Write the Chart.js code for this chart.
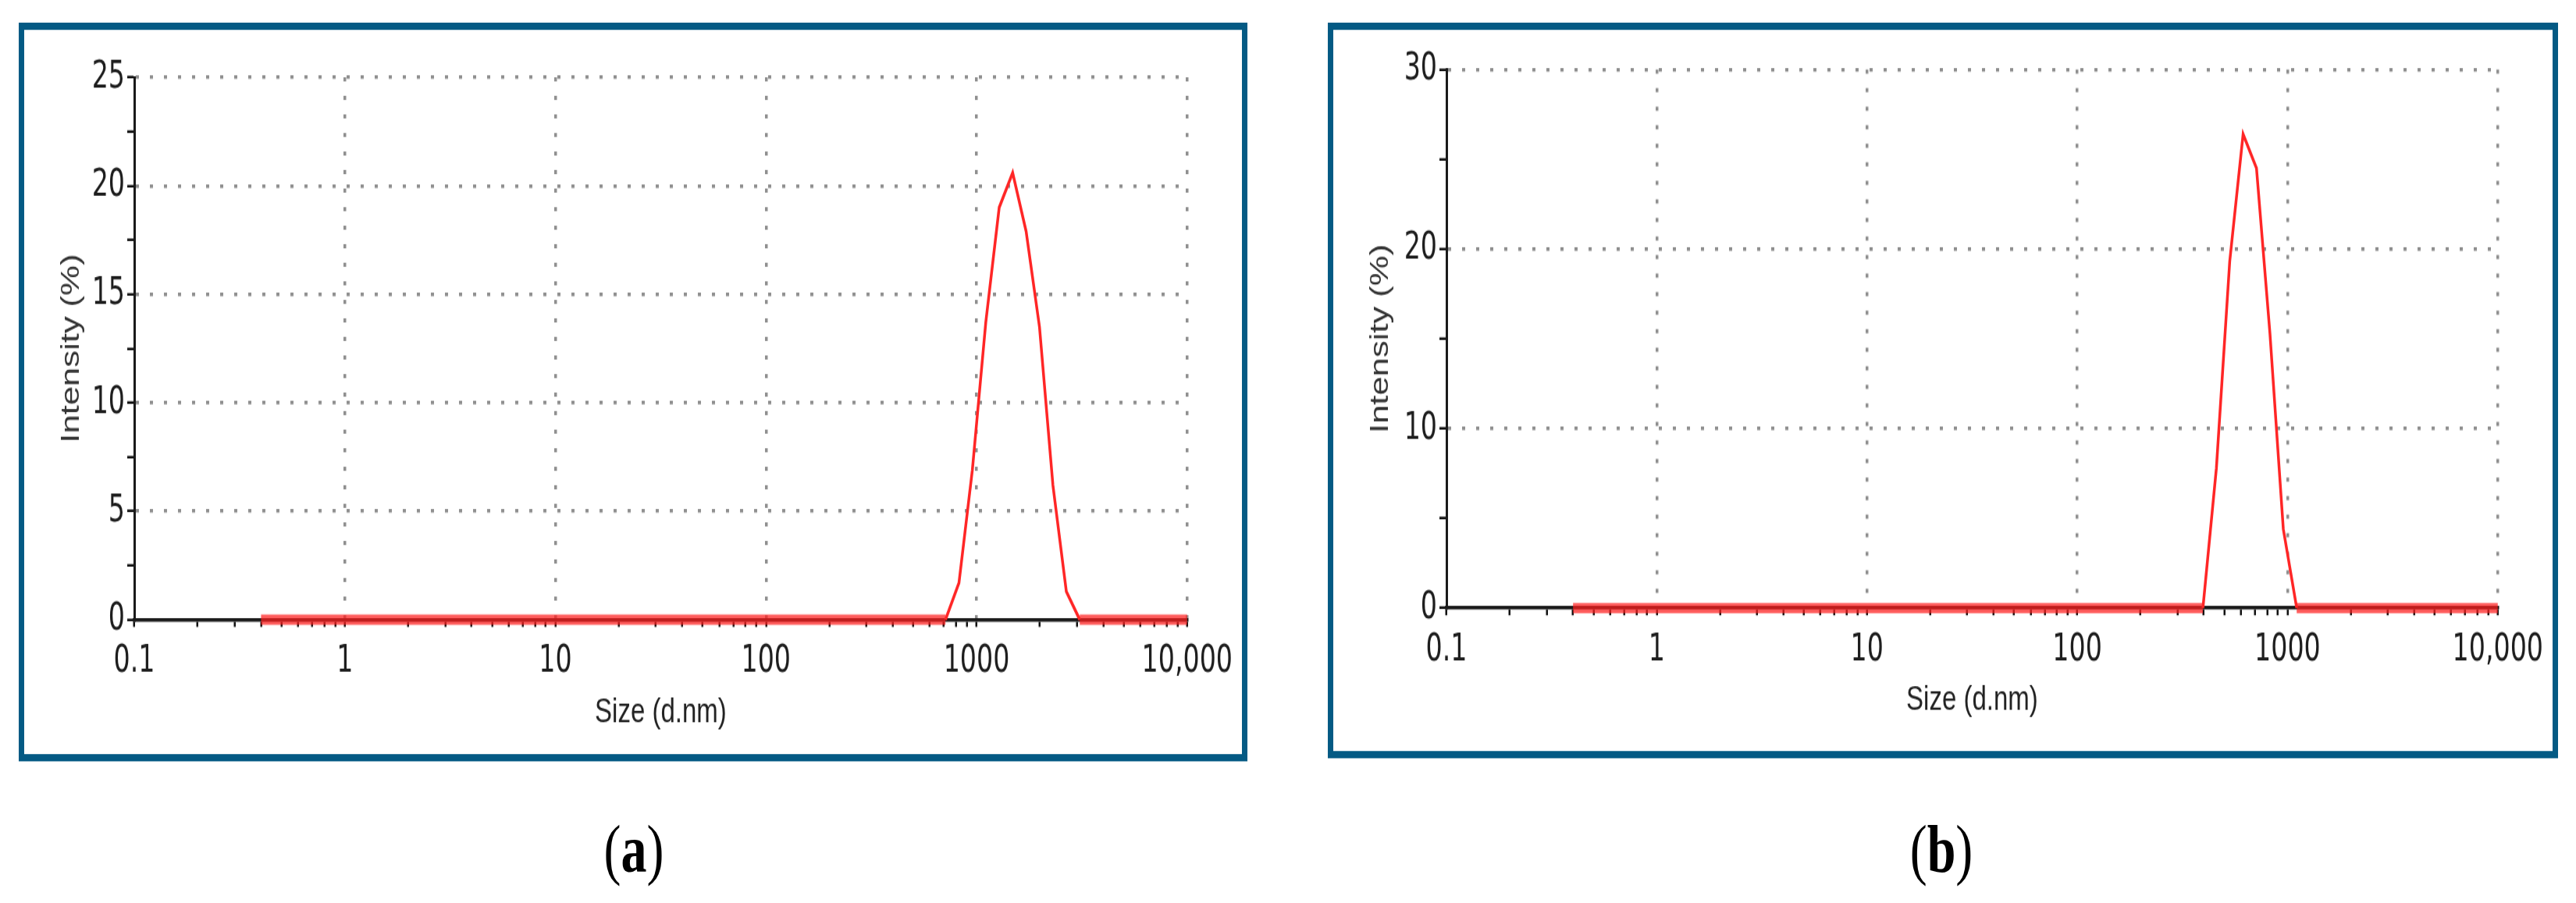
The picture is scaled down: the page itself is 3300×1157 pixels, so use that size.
<!DOCTYPE html>
<html lang="en">

<head>
    <meta charset="UTF-8">
    <title>Size distribution by intensity</title>

    <script src="https://cdn.jsdelivr.net/npm/chart.js"></script>

    <style>
        body {
            margin: 0;
            background: #fff;
            width: 3300px;
            height: 1157px;
            overflow: hidden;
        }

        /* the published figure is stretched vertically, so the whole sheet is too */
        #figure {
            position: absolute;
            left: 0;
            top: 0;
            width: 3300px;
            height: 877px;
            transform: scaleY(1.32);
            transform-origin: 0 0;
        }

        .frame {
            position: absolute;
            box-sizing: border-box;
            border: 7px solid #045a84;
            background: #fff;
        }

        #frameA { left: 24px; top: 22px; width: 1574px; height: 717px; }
        #frameB { left: 1701px; top: 22px; width: 1576px; height: 714px; }

        .frame canvas { position: absolute; left: 0; top: 0; }

        .panel {
            position: absolute;
            top: 784px;
            width: 200px;
            text-align: center;
            font-family: 'Liberation Serif', 'DejaVu Serif', serif;
            font-size: 66px;
            line-height: 80px;
            color: #000;
        }

        #panelA { left: 712px; }
        #panelB { left: 2387px; }
    </style>
</head>

<body>
    <div id="figure">
        <div class="frame" id="frameA"><canvas id="chartA" width="1560" height="703"></canvas></div>
        <div class="frame" id="frameB"><canvas id="chartB" width="1562" height="700"></canvas></div>
        <div class="panel" id="panelA">(<b>a</b>)</div>
        <div class="panel" id="panelB">(<b>b</b>)</div>
    </div>

    <script>
        // values: size (d.nm) and intensity (%)
        const sizesA = [0.4, 712, 825, 955, 1106, 1281, 1484, 1719, 1990, 2305, 2669, 3091, 10000];
        const intensityA = [0, 0, 1.7, 6.9, 13.7, 19.0, 20.6, 17.9, 13.5, 6.2, 1.3, 0, 0];

        const sizesB = [0.4, 396, 459, 531, 615, 712, 825, 955, 1106, 10000];
        const intensityB = [0, 0, 7.8, 19.3, 26.4, 24.5, 15.3, 4.4, 0, 0];

        // axes
        const xMajor = [0.1, 1, 10, 100, 1000, 10000];
        const xTickLabels = ['0.1', '1', '10', '100', '1000', '10,000'];
        const minorSteps = [1, 2, 3, 4, 5, 6, 7, 8, 9];
        const yMaxA = 25, yLabelStepA = 5, yMinorA = 2.5;
        const yMaxB = 30, yLabelStepB = 10, yMinorB = 5;

        const xTitle = 'Size (d.nm)';
        const yTitle = 'Intensity (%)';

        const tickFont = { family: "'Liberation Sans Narrow', 'DejaVu Sans Condensed', 'Liberation Sans', sans-serif", size: 37 };
        const titleFont = { family: "'Liberation Sans', Arial, sans-serif", size: 33 };
        const gridColor = '#8f8f8f';
        const none = 'rgba(0,0,0,0)';

        function makeChart(id, sizes, values, yMax, yLabelStep, yMinor, box) {
            const points = sizes.map((s, i) => ({ x: s, y: values[i] }));
            const flat = c => c.p0.parsed.y === 0 && c.p1.parsed.y === 0;

            return new Chart(document.getElementById(id), {
                type: 'line',
                data: {
                    datasets: [{
                        data: points,
                        borderColor: '#ff2626',
                        borderWidth: 3.5,
                        pointRadius: 0,
                        tension: 0,
                        fill: false,
                        clip: false,
                        segment: {
                            // the base line is drawn thick and see-through over the axis
                            borderWidth: c => flat(c) ? 10 : 3.5,
                            borderColor: c => flat(c) ? 'rgba(255, 30, 30, 0.72)' : '#ff2626'
                        }
                    }]
                },
                options: {
                    responsive: false,
                    devicePixelRatio: 1,
                    animation: false,
                    layout: { padding: { left: 0, top: box.top, right: box.right, bottom: box.bottom } },
                    plugins: { legend: { display: false }, tooltip: { enabled: false } },
                    scales: {
                        x: {
                            type: 'logarithmic',
                            min: xMajor[0],
                            max: xMajor[xMajor.length - 1],
                            afterBuildTicks: scale => {
                                const ticks = [];
                                xMajor.forEach((m, i) => {
                                    if (i === xMajor.length - 1) { ticks.push({ value: m }); return; }
                                    minorSteps.forEach(k => ticks.push({ value: +(m * k).toPrecision(3) }));
                                });
                                scale.ticks = ticks;
                            },
                            afterFit: scale => { scale.height = box.xAxis; },
                            ticks: {
                                autoSkip: false,
                                maxRotation: 0,
                                minRotation: 0,
                                padding: 12,
                                color: '#1e1e1e',
                                font: tickFont,
                                callback: v => {
                                    const i = xMajor.indexOf(v);
                                    return i >= 0 ? xTickLabels[i] : '';
                                }
                            },
                            grid: {
                                lineWidth: 3.5,
                                tickLength: 7,
                                tickWidth: 2.5,
                                tickColor: '#111',
                                color: c => (c.tick && c.tick.value !== xMajor[0] && xMajor.includes(c.tick.value)) ? gridColor : none
                            },
                            border: { display: true, color: '#1a1a1a', width: 3.5, dash: [4, 14] },
                            title: {
                                display: true,
                                text: xTitle,
                                color: '#222',
                                font: titleFont,
                                padding: { top: 0, bottom: box.xTitlePad }
                            }
                        },
                        y: {
                            min: 0,
                            max: yMax,
                            afterFit: scale => { scale.width = box.left; },
                            ticks: {
                                stepSize: yMinor,
                                autoSkip: false,
                                padding: 3,
                                color: '#1e1e1e',
                                font: tickFont,
                                callback: v => v % yLabelStep === 0 ? String(v) : ''
                            },
                            grid: {
                                lineWidth: 3.5,
                                tickLength: 9,
                                tickWidth: 2.5,
                                tickColor: '#111',
                                color: c => (c.tick && c.tick.value > 0 && c.tick.value % yLabelStep === 0) ? gridColor : none
                            },
                            border: { display: true, color: '#1a1a1a', width: 3, dash: [4, 14] },
                            title: {
                                display: true,
                                text: yTitle,
                                color: '#333',
                                font: titleFont,
                                padding: { top: 41, bottom: 0 }
                            }
                        }
                    }
                }
            });
        }

        makeChart('chartA', sizesA, intensityA, yMaxA, yLabelStepA, yMinorA,
            { left: 141, top: 46, right: 68, bottom: 0, xAxis: 130.5, xTitlePad: 19.8 });
        makeChart('chartB', sizesB, intensityB, yMaxB, yLabelStepB, yMinorB,
            { left: 145, top: 38.4, right: 67, bottom: 0, xAxis: 138.8, xTitlePad: 28.9 });
    </script>
</body>
</html>
